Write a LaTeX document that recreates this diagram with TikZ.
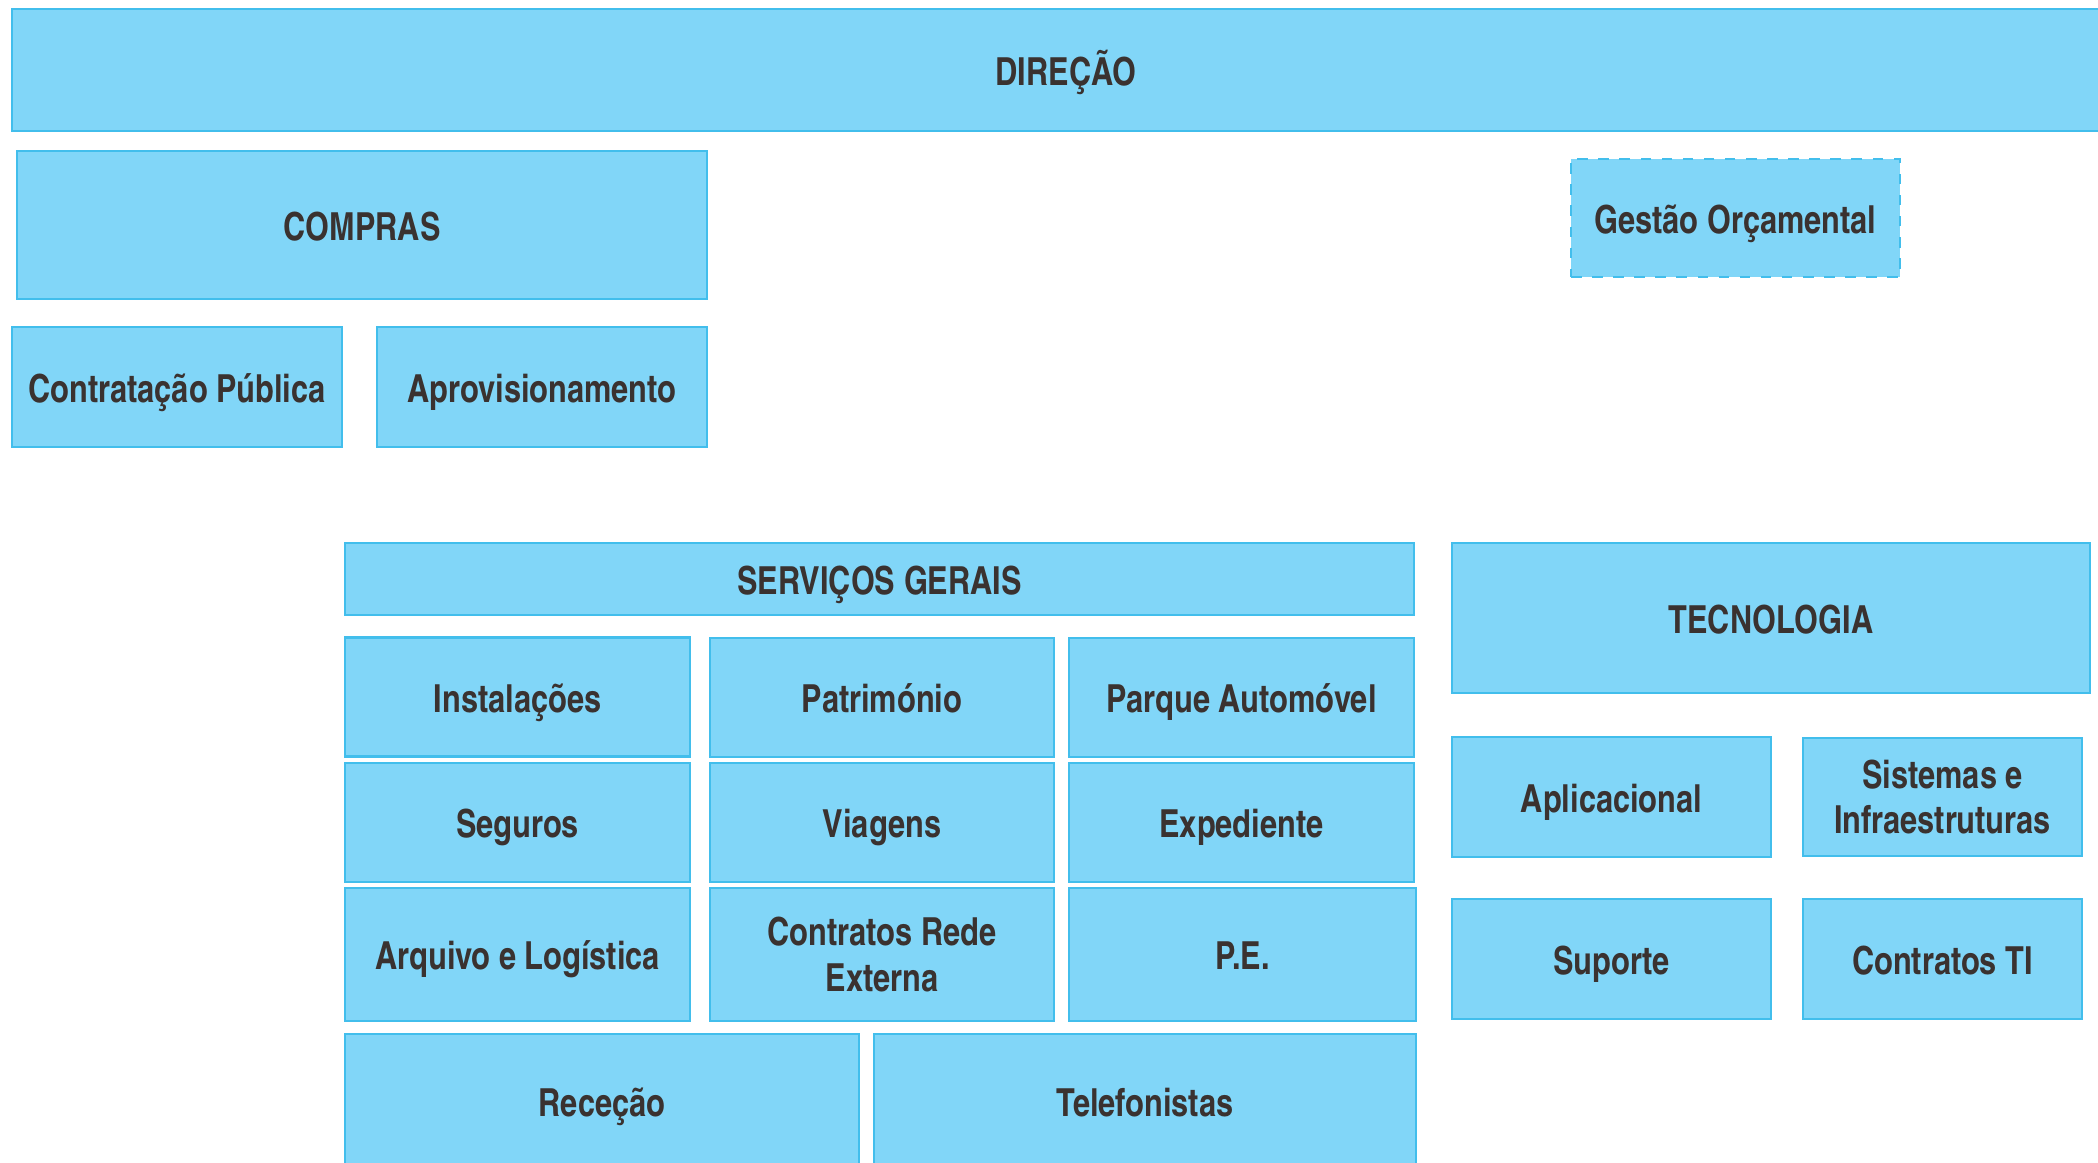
\documentclass[tikz,border=0pt]{standalone}
\usepackage{fontspec}
\usepackage{tikz}
\usetikzlibrary{positioning}
\newfontfamily\unitfont{texgyreheroscn-bold.otf}[FakeStretch=0.97]
\definecolor{unitfill}{RGB}{129,214,248}
\definecolor{unitline}{RGB}{66,190,236}
\definecolor{unittext}{RGB}{58,50,48}
\tikzset{
  unit/.style={draw=unitline, fill=unitfill, text=unittext, line width=0.6pt,
    font=\unitfont\fontsize{11pt}{13pt}\selectfont, align=center, inner sep=0pt},
  oneline/.style={unit, text height=0.98em, text depth=0.10em},
  cell/.style={oneline, minimum width=3.45cm, minimum height=1.19cm},
  tecell/.style={oneline, minimum height=1.2cm}
}
\begin{document}
\begin{tikzpicture}
\useasboundingbox (0,0) rectangle (20.98,-11.62);
% Top level
\node[oneline, minimum width=21.08cm, minimum height=1.22cm] (direcao) at (10.66,-0.70) {DIREÇÃO};
\node[oneline, dashed, minimum width=3.29cm, minimum height=1.18cm] (gestao) at (17.355,-2.18) {Gestão Orçamental};

% Compras
\node[oneline, minimum width=6.90cm, minimum height=1.48cm] (compras) at (3.62,-2.25) {COMPRAS};
\node[oneline, minimum width=3.30cm, minimum height=1.20cm] (contratacao) at (1.77,-3.87) {Contratação Pública};
\node[oneline, minimum width=3.30cm, minimum height=1.20cm] (aprov) at (5.42,-3.87) {Aprovisionamento};

% Servicos gerais
\node[oneline, minimum width=10.69cm, minimum height=0.72cm] (servicos) at (8.795,-5.79) {SERVIÇOS GERAIS};
\node[cell] (instal) at (5.175,-6.97) {Instalações};
\node[cell, minimum width=3.44cm] (patrim) at (8.82,-6.975) {Património};
\node[cell] (parque) at (12.415,-6.975) {Parque Automóvel};
\node[cell] (seguros) at (5.175,-8.225) {Seguros};
\node[cell, minimum width=3.44cm] (viagens) at (8.82,-8.225) {Viagens};
\node[cell] (expediente) at (12.415,-8.225) {Expediente};
\node[cell, minimum height=1.33cm] (arquivo) at (5.175,-9.545) {Arquivo e Logística};
\node[unit, minimum width=3.44cm, minimum height=1.33cm] (redeext) at (8.82,-9.545) {Contratos Rede\\Externa};
\node[cell, minimum width=3.47cm, minimum height=1.33cm] (pe) at (12.425,-9.545) {P.E.};
\node[oneline, minimum width=5.14cm, minimum height=1.35cm] (rececao) at (6.02,-11.015) {Receção};
\node[oneline, minimum width=5.42cm, minimum height=1.35cm] (telef) at (11.45,-11.015) {Telefonistas};

% Tecnologia
\node[oneline, minimum width=6.38cm, minimum height=1.50cm] (tecnologia) at (17.71,-6.18) {TECNOLOGIA};
\node[tecell, minimum width=3.19cm] (aplic) at (16.115,-7.97) {Aplicacional};
\node[unit, minimum width=2.79cm, minimum height=1.18cm] (sistemas) at (19.425,-7.97) {Sistemas e\\Infraestruturas};
\node[tecell, minimum width=3.19cm] (suporte) at (16.115,-9.59) {Suporte};
\node[tecell, minimum width=2.79cm] (contratosti) at (19.425,-9.59) {Contratos TI};
\end{tikzpicture}
\end{document}
